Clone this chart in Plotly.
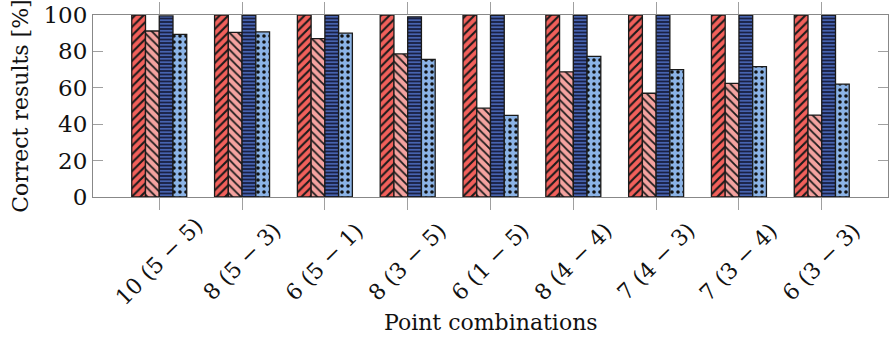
import plotly.graph_objects as go

categories = ["10 (5 − 5)", "8 (5 − 3)", "6 (5 − 1)", "8 (3 − 5)", "6 (1 − 5)",
              "8 (4 − 4)", "7 (4 − 3)", "7 (3 − 4)", "6 (3 − 3)"]
series_a = [100, 100, 100, 100, 100, 100, 100, 100, 100]
series_b = [91.2, 90.4, 87, 78.6, 48.8, 68.8, 57, 62.4, 45]
series_c = [99.5, 100, 100, 99, 100, 100, 100, 100, 100]
series_d = [89.4, 90.7, 90, 75.6, 44.8, 77.3, 70, 71.6, 62]
y_ticks = [0, 20, 40, 60, 80, 100]

FONT = "DejaVu Serif"
styles = [
    (series_a, "#F2605B", "#1a1a1a", "/", 6, 0.35),
    (series_b, "#F4A3A0", "#1a1a1a", "\\", 6, 0.3),
    (series_c, "#1A2144", "#5A80DE", "-", 3.5, 0.35),
    (series_d, "#8BB3E6", "#111111", ".", 6, 0.28),
]

fig = go.Figure()
for vals, bg, fg, shape, size, sol in styles:
    fig.add_trace(go.Bar(
        x=categories, y=vals,
        marker=dict(color=bg, line=dict(color="#1a1a1a", width=1.3),
                    pattern=dict(shape=shape, fgcolor=fg, bgcolor=bg,
                                 size=size, solidity=sol, fillmode="replace")),
        showlegend=False,
    ))

annotations = []
for c in categories:
    annotations.append(dict(x=c, xref="x", y=-0.355, yref="paper", text=c,
                            showarrow=False, textangle=-45, xanchor="center",
                            yanchor="middle", font=dict(family=FONT, size=22, color="#111")))
annotations.append(dict(x=0.5, xref="paper", y=-0.687, yref="paper",
                        text="Point combinations", showarrow=False,
                        xanchor="center", yanchor="middle",
                        font=dict(family=FONT, size=22, color="#111")))
annotations.append(dict(x=-0.092, xref="paper", y=0.5, yref="paper",
                        text="Correct results [%]", showarrow=False, textangle=-90,
                        xanchor="center", yanchor="middle",
                        font=dict(family=FONT, size=22, color="#111")))

fig.update_layout(
    width=891, height=341,
    margin=dict(l=93, r=3, t=15, b=144),
    plot_bgcolor="white", paper_bgcolor="white",
    barmode="group", bargap=0.336, bargroupgap=0,
    annotations=annotations,
    font=dict(family=FONT, size=22, color="#111"),
)
fig.update_xaxes(type="category", range=[-0.8, 8.8], showticklabels=False,
                 ticks="outside", ticklen=12, tickcolor="#a0a0a0", tickwidth=1,
                 showline=True, linecolor="#888", linewidth=1, mirror="ticks",
                 showgrid=False, zeroline=False)
fig.update_yaxes(range=[0, 100], tickvals=y_ticks, ticks="inside", ticklen=10,
                 tickcolor="#a0a0a0", tickwidth=1, showline=True, linecolor="#888",
                 linewidth=1, mirror="ticks", showgrid=False, zeroline=False,
                 tickfont=dict(family=FONT, size=23, color="#111"))

fig.write_html("out.html", config={"displayModeBar": False},
               post_script="document.body.style.margin='0';")
